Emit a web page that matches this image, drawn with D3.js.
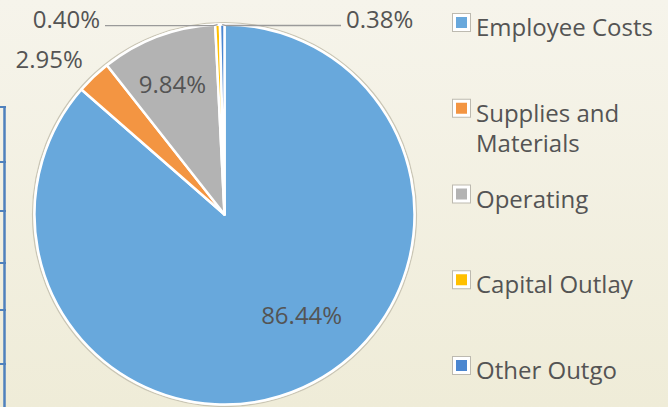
<!DOCTYPE html>
<html>
<head>
<meta charset="utf-8">
<script src="https://cdn.jsdelivr.net/npm/d3@7"></script>
<style>
  html, body { margin: 0; padding: 0; }
  svg { display: block; }
</style>
</head>
<body>
<svg id="drawing_region"></svg>
<script>
// data
const categories = ["Employee Costs", "Supplies and Materials", "Operating", "Capital Outlay", "Other Outgo"];
const shares = [86.44, 2.95, 9.84, 0.40, 0.38];
const colors = ["#68a8dc", "#f39542", "#b3b3b3", "#ffc000", "#4a86d0"];

const width = 668, height = 407;
const cx = 224.5, cy = 214.5, radius = 190;

const svg = d3.select('#drawing_region')
    .attr('width', width)
    .attr('height', height);

// background
const defs = svg.append('defs');
const grad = defs.append('linearGradient')
    .attr('id', 'bg')
    .attr('x1', 0).attr('y1', 0).attr('x2', 0).attr('y2', 1);
grad.append('stop').attr('offset', '0%').attr('stop-color', '#f6f4eb');
grad.append('stop').attr('offset', '100%').attr('stop-color', '#efecd8');
svg.append('rect')
    .attr('width', width)
    .attr('height', height)
    .attr('fill', 'url(#bg)');

// piece of the slide table on the left edge
const tableRows = [107, 162, 211, 263, 310, 364];
svg.append('line')
    .attr('x1', 4.5).attr('x2', 4.5)
    .attr('y1', 106).attr('y2', height)
    .attr('stroke', '#4f81bd')
    .attr('stroke-width', 2.5);
svg.selectAll('.trow').data(tableRows).join('line')
    .attr('class', 'trow')
    .attr('x1', 0).attr('x2', 6)
    .attr('y1', d => d).attr('y2', d => d)
    .attr('stroke', '#4f81bd')
    .attr('stroke-width', 2);

const data = categories.map((c, i) => ({ label: c, value: shares[i], color: colors[i] }));

const pie = d3.pie()
    .sort(null)
    .value(d => d.value);
const arcs = pie(data);

const arc = d3.arc()
    .innerRadius(0)
    .outerRadius(radius);

const chart = svg.append('g')
    .attr('transform', `translate(${cx}, ${cy})`);

// soft outline around the pie
chart.append('circle')
    .attr('r', radius + 2)
    .attr('fill', 'none')
    .attr('stroke', '#c9c5b5')
    .attr('stroke-width', 1.2);

chart.selectAll('path').data(arcs).join('path')
    .attr('d', arc)
    .attr('fill', d => d.data.color)
    .attr('stroke', '#ffffff')
    .attr('stroke-width', 2.5)
    .attr('stroke-linejoin', 'round');

// data labels
const fmt = d => d.toFixed(2) + '%';
const textColor = '#545454';
const labelFont = '"Open Sans", Lato, sans-serif';

// inside / near labels: polar placement (angle shift in degrees, radius)
const placement = [
    { shift: -13, r: 127 },
    { shift: -5, r: 234 },
    { shift: -1.3, r: 140 }
];
placement.forEach((p, i) => {
    const a = (arcs[i].startAngle + arcs[i].endAngle) / 2 + p.shift * Math.PI / 180;
    chart.append('text')
        .attr('x', p.r * Math.sin(a))
        .attr('y', -p.r * Math.cos(a))
        .attr('dy', '0.35em')
        .attr('text-anchor', 'middle')
        .attr('font-family', labelFont)
        .attr('font-size', 24)
        .attr('fill', textColor)
        .text(fmt(arcs[i].data.value));
});

// tiny slices: leader lines to labels above the pie
const leaders = [
    { i: 3, side: -1, end: 105 },
    { i: 4, side: 1, end: 341 }
];
leaders.forEach(l => {
    const d = arcs[l.i];
    const a = (d.startAngle + d.endAngle) / 2;
    const px = radius * Math.sin(a);
    const py = -radius * Math.cos(a);
    const ly = py + 1;
    chart.append('polyline')
        .attr('points', `${px},${py} ${px + l.side * 4},${ly} ${l.end - cx},${ly}`)
        .attr('fill', 'none')
        .attr('stroke', '#9a9a9a')
        .attr('stroke-width', 1.3);
    chart.append('text')
        .attr('x', l.end - cx + l.side * 5)
        .attr('y', ly - 6)
        .attr('dy', '0.35em')
        .attr('text-anchor', l.side < 0 ? 'end' : 'start')
        .attr('font-family', labelFont)
        .attr('font-size', 24)
        .attr('fill', textColor)
        .text(fmt(d.data.value));
});

// legend
const legendY = d3.scaleLinear()
    .domain([0, categories.length - 1])
    .range([13, 356]);

const legend = svg.append('g');
const item = legend.selectAll('g').data(data).join('g')
    .attr('transform', (d, i) => `translate(452, ${legendY(i)})`);

item.append('rect')
    .attr('x', 0.5).attr('y', 0.5)
    .attr('width', 18).attr('height', 18)
    .attr('fill', '#ffffff')
    .attr('stroke', '#bdbab0')
    .attr('stroke-width', 1);
item.append('rect')
    .attr('x', 4).attr('y', 4)
    .attr('width', 11).attr('height', 11)
    .attr('fill', d => d.color);

item.each(function (d) {
    const words = d.label === 'Supplies and Materials' ? ['Supplies and', 'Materials'] : [d.label];
    const t = d3.select(this).append('text')
        .attr('font-family', labelFont)
        .attr('font-size', 24)
        .attr('fill', textColor);
    words.forEach((w, k) => {
        t.append('tspan')
            .attr('x', 24)
            .attr('y', 23 + k * 30)
            .text(w);
    });
});
</script>
</body>
</html>
